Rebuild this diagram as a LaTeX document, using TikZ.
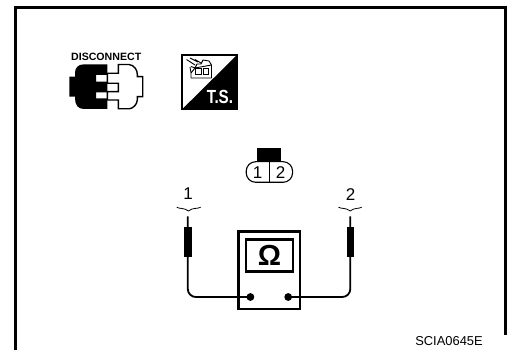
\documentclass[tikz,border=0pt]{standalone}
\usepackage{fontspec}
\setmainfont{Liberation Sans}
\tikzset{
  frameline/.style={line width=3pt,line cap=butt},
  wire/.style={line width=1.8pt,rounded corners=8pt},
  probe/.style={draw=none,fill=black,minimum width=7.6pt,minimum height=30pt,inner sep=0pt},
  lab/.style={font=\fontsize{17}{17}\selectfont,inner sep=0pt},
  term/.style={circle,fill=black,minimum size=7.8pt,inner sep=0pt},
  brc/.style={line width=.8pt},
  icon/.style={line width=.9pt,line join=round}
}
\begin{document}
\begin{tikzpicture}[x=1pt,y=-1pt]
\useasboundingbox (0,0) rectangle (512,350);
% frame
\draw[frameline] (15.5,350) -- (15.5,5.7);
\draw[frameline] (14,7.3) -- (506.5,7.3);
\draw[frameline] (505,5.7) -- (505,335);
% disconnect icon
\node[font=\bfseries\fontsize{10.6}{10.6}\selectfont,inner sep=0pt] (disc) at (106.2,57.3) {DISCONNECT};
\fill (84,64.3) -- (107.3,64.3) -- (107.3,75) -- (96,75) -- (96,81.7) -- (107.3,81.7) -- (107.3,92.3) -- (96,92.3) -- (96,98.3) -- (107.3,98.3) -- (107.3,109) -- (84,109) .. controls (78,109) and (75,105) .. (75,98) -- (75,96.7) -- (69.3,96.7) -- (69.3,76.7) -- (75,76.7) -- (75,73) .. controls (75,68) and (78,64.3) .. (84,64.3) -- cycle;
\draw[line width=1.4pt,line join=miter] (107.3,73.3) -- (118.3,73.3) -- (118.3,64.5) -- (129,64.5) .. controls (134,65) and (137.3,70) .. (137.3,74) -- (137.3,76.7) -- (142.7,76.7) -- (142.7,96.7) -- (137.3,96.7) -- (137.3,100) .. controls (137.3,104) and (133,108.8) .. (129,108.8) -- (118.3,108.8) -- (118.3,100) -- (107.3,100) -- (107.3,91.7) -- (118.3,91.7) -- (118.3,83.3) -- (107.3,83.3) -- cycle;
% T.S. icon
\fill (237.3,54.7) -- (237.3,109.7) -- (181.7,109.7) -- cycle;
\draw[line width=1.5pt] (182.2,55.2) rectangle (236.8,109.2);
\node[font=\bfseries\fontsize{19}{19}\selectfont,text=white,inner sep=0pt] (ts) at (220,96.5) {\scalebox{.8}[1]{T.S.}};
\draw[icon]
  (190,67) -- (191,73) -- (191,78) -- (211.5,78) -- (211.5,65) -- (209,61) -- (203,60) -- (201,64) -- (197,64) -- (195,68) -- (191,73)
  (195,68) -- (211.5,65) (191,66.5) -- (195,68);
\draw[line width=.9pt] (195.7,68.7) rectangle (201,74) (203.3,68.7) rectangle (208.3,74);
\draw[line width=.9pt] (186.5,59.5) -- (195,65) (190,58) -- (198,62) (195,59.5) -- (201,63);
% connector face
\fill (257.3,148) rectangle (281.3,162);
\draw[line width=1.1pt,rounded corners=9.5pt] (246.2,161.7) rectangle (292.6,182.3);
\draw[line width=.9pt] (269,161.7) -- (269,182.3);
\node[lab] (p1) at (257.5,172.4) {1};
\node[lab] (p2) at (280.5,172.4) {2};
% meter
\draw[line width=2.4pt] (238.3,231.7) rectangle (300,309);
\draw[line width=2.2pt] (246,239.5) rectangle (292.6,271.5);
\node[font=\bfseries\fontsize{29}{29}\selectfont,inner sep=0pt] (ohm) at (269.5,255.5) {Ω};
\node[term] (t1) at (250.4,297) {};
\node[term] (t2) at (288.2,297) {};
% probes
\node[probe] (pl) at (187.8,242.5) {};
\node[probe] (pr) at (350.3,242.5) {};
\coordinate (tipl) at (187.8,216.5);
\coordinate (tipr) at (350.3,216.5);
\draw[wire] (tipl) -- (pl.center) |- (t1.center);
\draw[wire] (tipr) -- (pr.center) |- (t2.center);
% labels and braces
\node[lab] (l1) at (188,193.5) {1};
\node[lab] (l2) at (350.5,194.5) {2};
\draw[brc] (176.7,207.2) .. controls (179,209) and (184,207.5) .. (188.5,211) .. controls (192,207.5) and (198,209) .. (200.7,207.2);
\draw[brc] (338.5,207.2) .. controls (341,209) and (346,207.5) .. (350.3,211) .. controls (354,207.5) and (359,209) .. (361.7,207.2);
% code
\node[font=\fontsize{12.9}{12.9}\selectfont,inner sep=0pt] (code) at (449,341.5) {SCIA0645E};
\end{tikzpicture}
\end{document}
